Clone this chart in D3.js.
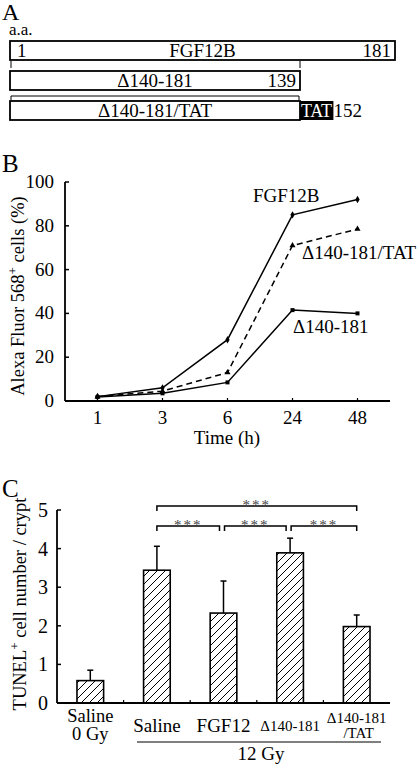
<!DOCTYPE html>
<html><head><meta charset="utf-8">
<script src="https://cdn.jsdelivr.net/npm/d3@7/dist/d3.min.js"></script>
<style>body{margin:0;background:#fff}svg{display:block;font-family:"Liberation Serif","DejaVu Serif",serif}</style>
</head><body>
<script>
// Panel A constructs
const constructs = ["FGF12B", "Δ140-181", "Δ140-181/TAT"];
const constructStart = [1, 1, 1];
const constructEnd = [181, 139, 139];
const tatStart = 139, tatEnd = 152;
// Panel B
const timeLabels = ["1", "3", "6", "24", "48"];
const seriesNames = ["FGF12B", "Δ140-181/TAT", "Δ140-181"];
const fgf12bVals = [2, 6, 28, 85, 92];
const tatVals = [2, 4.5, 13, 71, 78.5];
const delVals = [1.8, 3.5, 8.5, 41.5, 40];
const yTicksB = [0, 20, 40, 60, 80, 100];
// Panel C
const groups = ["Saline 0 Gy", "Saline", "FGF12", "Δ140-181", "Δ140-181/TAT"];
const means = [0.58, 3.44, 2.33, 3.89, 1.98];
const errs = [0.27, 0.62, 0.83, 0.38, 0.3];
const yTicksC = [0, 1, 2, 3, 4, 5];
const sigPairs = [[1, 4, 2], [1, 2, 1], [2, 3, 1], [3, 4, 1]];

const W = 420, H = 767;
const svg = d3.select("body").append("svg").attr("width", W).attr("height", H);
const defs = svg.append("defs");
const pat = defs.append("pattern").attr("id", "hatch").attr("patternUnits", "userSpaceOnUse")
  .attr("width", 8).attr("height", 8);
pat.append("path").attr("d", "M-2,2 L2,-2 M0,8 L8,0 M6,10 L10,6").attr("stroke", "#000").attr("stroke-width", 1);

// ---------- Panel A ----------
svg.append("text").attr("x", 2).attr("y", 20).attr("font-size", 24).text("A");
svg.append("text").attr("x", 9).attr("y", 35).attr("font-size", 17).text("a.a.");
const xa = d3.scaleLinear().domain([1, 139, 181]).range([10, 300, 395]);
const rowY = d3.scalePoint().domain(constructs).range([41, 101]);
const barH = 19;
const fsA = 19;
const gA = svg.append("g");
constructs.forEach((c, i) => {
  const y = rowY(c);
  gA.append("rect").attr("x", xa(constructStart[i])).attr("y", y)
    .attr("width", xa(constructEnd[i]) - xa(constructStart[i])).attr("height", barH)
    .attr("fill", "#fff").attr("stroke", "#000").attr("stroke-width", 1.8);
  gA.append("text").attr("x", (xa(constructStart[i]) + xa(constructEnd[i])) / 2).attr("y", y + 16)
    .attr("text-anchor", "middle").attr("font-size", fsA).text(c);
});
// numbers
gA.append("text").attr("x", xa(1) + 7).attr("y", rowY(constructs[0]) + 16).attr("font-size", fsA).text("1");
gA.append("text").attr("x", xa(181) - 4).attr("y", rowY(constructs[0]) + 16).attr("text-anchor", "end").attr("font-size", fsA).text("181");
gA.append("text").attr("x", xa(139) - 4).attr("y", rowY(constructs[1]) + 16).attr("text-anchor", "end").attr("font-size", fsA).text("139");
// TAT box
const tatY = rowY(constructs[2]);
gA.append("rect").attr("x", xa(tatStart)).attr("y", tatY).attr("width", xa(tatEnd) - xa(tatStart) + 4).attr("height", barH).attr("fill", "#000");
gA.append("text").attr("x", xa(tatStart) + 1).attr("y", tatY + 16).attr("font-size", 18).attr("fill", "#fff").attr("textLength", 31).text("TAT");
gA.append("text").attr("x", xa(tatEnd) + 4).attr("y", tatY + 16).attr("font-size", fsA).text("152");
// connector lines
[xa(1) + 1, xa(139)].forEach(x => gA.append("line").attr("x1", x).attr("x2", x).attr("y1", 61).attr("y2", 68).attr("stroke", "#000").attr("stroke-width", 1));
gA.append("line").attr("x1", xa(1) + 1).attr("x2", xa(139) - 1).attr("y1", 96).attr("y2", 96).attr("stroke", "#000").attr("stroke-width", 1);
[xa(1) + 1, xa(139) - 1].forEach(x => gA.append("line").attr("x1", x).attr("x2", x).attr("y1", 96).attr("y2", 100).attr("stroke", "#000").attr("stroke-width", 1));

// ---------- Panel B ----------
svg.append("text").attr("x", 2).attr("y", 172).attr("font-size", 25).text("B");
const xb = d3.scalePoint().domain(timeLabels).range([65, 390]).padding(0.5);
const yb = d3.scaleLinear().domain([0, 100]).range([401, 182]);
const gB = svg.append("g");
gB.append("line").attr("x1", 65).attr("x2", 65).attr("y1", yb(100)).attr("y2", yb(0)).attr("stroke", "#000").attr("stroke-width", 1.8);
gB.append("line").attr("x1", 65).attr("x2", 390).attr("y1", yb(0)).attr("y2", yb(0)).attr("stroke", "#000").attr("stroke-width", 1.8);
yTicksB.forEach(t => {
  gB.append("line").attr("x1", 65).attr("x2", 69).attr("y1", yb(t)).attr("y2", yb(t)).attr("stroke", "#000").attr("stroke-width", 1.5);
  gB.append("text").attr("x", 54).attr("y", yb(t) + 6).attr("text-anchor", "end").attr("font-size", 19).text(t);
});
timeLabels.forEach(t => {
  gB.append("line").attr("x1", xb(t)).attr("x2", xb(t)).attr("y1", yb(0)).attr("y2", yb(0) - 3).attr("stroke", "#000").attr("stroke-width", 1.2);
  gB.append("text").attr("x", xb(t)).attr("y", 424).attr("text-anchor", "middle").attr("font-size", 19).text(t);
});
gB.append("text").attr("x", 227).attr("y", 444).attr("text-anchor", "middle").attr("font-size", 19).text("Time (h)");
const yl = gB.append("text").attr("transform", "translate(24,296) rotate(-90)").attr("text-anchor", "middle").attr("font-size", 18.5);
yl.append("tspan").text("Alexa Fluor 568");
yl.append("tspan").attr("dy", -7).attr("font-size", 13).text("+");
yl.append("tspan").attr("dy", 7).text(" cells (%)");
const line = d3.line().x((d, i) => xb(timeLabels[i])).y(d => yb(d));
const series = [fgf12bVals, tatVals, delVals];
series.forEach((vals, k) => {
  gB.append("path").attr("d", line(vals)).attr("fill", "none").attr("stroke", "#000").attr("stroke-width", 1.5)
    .attr("stroke-dasharray", k === 1 ? "6,4" : null);
  const sym = [d3.symbolDiamond, d3.symbolTriangle, d3.symbolSquare][k];
  vals.forEach((v, i) => gB.append("path").attr("d", d3.symbol(sym, 16)()).attr("transform", `translate(${xb(timeLabels[i])},${yb(v)})`).attr("fill", "#000"));
});
gB.append("text").attr("x", 253).attr("y", 202).attr("font-size", 19).text(seriesNames[0]);
gB.append("text").attr("x", 302).attr("y", 259).attr("font-size", 19).text(seriesNames[1]);
gB.append("text").attr("x", 293).attr("y", 333).attr("font-size", 19).text(seriesNames[2]);

// ---------- Panel C ----------
svg.append("text").attr("x", 2).attr("y", 497).attr("font-size", 25).text("C");
const xc = d3.scaleBand().domain(groups).range([57, 390]).paddingInner(0.6).paddingOuter(0.3);
const yc = d3.scaleLinear().domain([0, 5]).range([703, 510]);
const gC = svg.append("g");
gC.append("line").attr("x1", 57).attr("x2", 57).attr("y1", yc(5)).attr("y2", yc(0)).attr("stroke", "#000").attr("stroke-width", 1.8);
gC.append("line").attr("x1", 57).attr("x2", 390).attr("y1", yc(0)).attr("y2", yc(0)).attr("stroke", "#000").attr("stroke-width", 1.8);
yTicksC.forEach(t => {
  gC.append("line").attr("x1", 57).attr("x2", 61).attr("y1", yc(t)).attr("y2", yc(t)).attr("stroke", "#000").attr("stroke-width", 1.5);
  gC.append("text").attr("x", 48).attr("y", yc(t) + 7).attr("text-anchor", "end").attr("font-size", 20).text(t);
});
const step = xc.step();
groups.slice(1).forEach(g => {
  const x = xc(g) - (step - xc.bandwidth()) / 2;
  gC.append("line").attr("x1", x).attr("x2", x).attr("y1", yc(0)).attr("y2", yc(0) - 3).attr("stroke", "#000").attr("stroke-width", 1.2);
});
groups.forEach((g, i) => {
  const cx = xc(g) + xc.bandwidth() / 2;
  gC.append("line").attr("x1", cx).attr("x2", cx).attr("y1", yc(means[i])).attr("y2", yc(means[i] + errs[i])).attr("stroke", "#000").attr("stroke-width", 1.5);
  gC.append("line").attr("x1", cx - 3).attr("x2", cx + 3).attr("y1", yc(means[i] + errs[i])).attr("y2", yc(means[i] + errs[i])).attr("stroke", "#000").attr("stroke-width", 1.5);
  gC.append("rect").attr("x", xc(g)).attr("y", yc(means[i])).attr("width", xc.bandwidth()).attr("height", yc(0) - yc(means[i]))
    .attr("fill", "url(#hatch)").attr("stroke", "#000").attr("stroke-width", 1.6);
});
// x labels
const cxOf = i => xc(groups[i]) + xc.bandwidth() / 2;
gC.append("text").attr("x", cxOf(0)).attr("y", 722).attr("text-anchor", "middle").attr("font-size", 18.5).text("Saline");
gC.append("text").attr("x", cxOf(0)).attr("y", 740).attr("text-anchor", "middle").attr("font-size", 18.5).text("0 Gy");
gC.append("text").attr("x", cxOf(1)).attr("y", 732).attr("text-anchor", "middle").attr("font-size", 19).text(groups[1]);
gC.append("text").attr("x", cxOf(2)).attr("y", 732).attr("text-anchor", "middle").attr("font-size", 19).text(groups[2]);
gC.append("text").attr("x", cxOf(3)).attr("y", 731).attr("text-anchor", "middle").attr("font-size", 15).text(groups[3]);
gC.append("text").attr("x", cxOf(4)).attr("y", 723).attr("text-anchor", "middle").attr("font-size", 15).text("Δ140-181");
gC.append("text").attr("x", cxOf(4) + 2).attr("y", 738).attr("text-anchor", "middle").attr("font-size", 15).text("/TAT");
gC.append("line").attr("x1", 137).attr("x2", 381).attr("y1", 742).attr("y2", 742).attr("stroke", "#000").attr("stroke-width", 1.2);
gC.append("text").attr("x", 261).attr("y", 760).attr("text-anchor", "middle").attr("font-size", 19).text("12 Gy");
const ylc = gC.append("text").attr("transform", "translate(26,604) rotate(-90)").attr("text-anchor", "middle").attr("font-size", 18.5);
ylc.append("tspan").text("TUNEL");
ylc.append("tspan").attr("dy", -7).attr("font-size", 13).text("+");
ylc.append("tspan").attr("dy", 7).text(" cell number / crypt");
// significance brackets
sigPairs.forEach(([a, b, lvl]) => {
  const y = lvl === 2 ? 506 : 526;
  const x1 = cxOf(a) + (lvl === 1 && a > 1 ? 1 : 0), x2 = cxOf(b) - (lvl === 1 && b < 4 ? 4 : 0);
  gC.append("path").attr("d", `M${x1},${y + 5}V${y}H${x2}V${y + 5}`).attr("fill", "none").attr("stroke", "#000").attr("stroke-width", 1.5);
  gC.append("text").attr("x", (x1 + x2) / 2).attr("y", y + 4).attr("text-anchor", "middle").attr("font-size", 15).attr("fill", "#444").attr("letter-spacing", 2).text("***");
});
</script>
</body></html>
